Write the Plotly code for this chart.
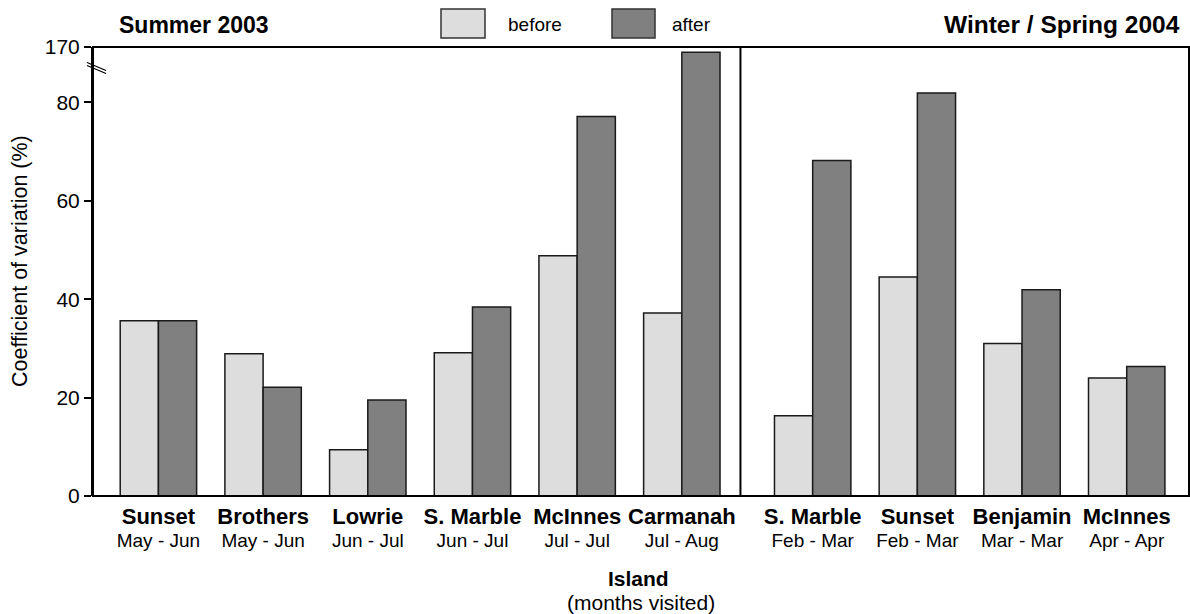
import plotly.graph_objects as go

# ---------------- data ----------------
summer_islands = ["Sunset", "Brothers", "Lowrie", "S. Marble", "McInnes", "Carmanah"]
summer_months = ["May - Jun", "May - Jun", "Jun - Jul", "Jun - Jul", "Jul - Jul", "Jul - Aug"]
summer_before = [35.6, 28.9, 9.4, 29.1, 48.8, 37.2]
summer_after = [35.6, 22.1, 19.5, 38.4, 77.1, 165.0]

winter_islands = ["S. Marble", "Sunset", "Benjamin", "McInnes"]
winter_months = ["Feb - Mar", "Feb - Mar", "Mar - Mar", "Apr - Apr"]
winter_before = [16.3, 44.5, 31.0, 24.0]
winter_after = [68.2, 81.9, 41.9, 26.3]

lower_ticks = [0, 20, 40, 60, 80]
upper_ticks = [170]

season_labels = ["Summer 2003", "Winter / Spring 2004"]
series_names = ["before", "after"]

# ---------------- layout constants ----------------
W, H = 1190, 614
ML, MR, MT, MB = 93, 1, 47, 118
PW, PH = W - ML - MR, H - MT - MB
WINTER_GAP = 0.25
BREAK_PX = 68          # pixel row of the axis break
FONT = "Liberation Sans, Arial, sans-serif"
C_BEFORE, C_AFTER, C_EDGE = "#dddddd", "#808080", "#1a1a1a"


def px_x(px):
    return (px - ML) / PW


def px_y(py):
    return (H - MB - py) / PH


islands = summer_islands + winter_islands
months = summer_months + winter_months
before = summer_before + winter_before
after = summer_after + winter_after
xpos = list(range(len(summer_islands))) + [len(summer_islands) + WINTER_GAP + i for i in range(len(winter_islands))]
ticktext = [f"<span style='font-size:22px'><b>{n}</b></span><br><span style='font-size:19px'>{m}</span>"
            for n, m in zip(islands, months)]

break_frac = px_y(BREAK_PX)
lower_top = 80 + (102.3 - BREAK_PX) / 4.92

fig = go.Figure()
for yax in ["y", "y2"]:
    fig.add_trace(go.Bar(x=xpos, y=before, name=series_names[0], yaxis=yax, xaxis="x",
                         marker=dict(color=C_BEFORE, line=dict(color=C_EDGE, width=1.5)),
                         showlegend=False, hoverinfo="y"))
    fig.add_trace(go.Bar(x=xpos, y=after, name=series_names[1], yaxis=yax, xaxis="x",
                         marker=dict(color=C_AFTER, line=dict(color=C_EDGE, width=1.5)),
                         showlegend=False, hoverinfo="y"))

shapes = [
    # frame
    dict(type="rect", xref="paper", yref="paper", x0=0, x1=1, y0=0, y1=1,
         line=dict(color="black", width=2), layer="above"),
    # season divider
    dict(type="line", xref="x", yref="paper", x0=5.56, x1=5.56, y0=0, y1=1,
         line=dict(color="black", width=2)),
    # axis break marks
    dict(type="line", xref="paper", yref="paper", x0=px_x(87), x1=px_x(106),
         y0=px_y(62.5), y1=px_y(70.5), line=dict(color="black", width=1.3)),
    dict(type="line", xref="paper", yref="paper", x0=px_x(87), x1=px_x(106),
         y0=px_y(65.5), y1=px_y(73.5), line=dict(color="black", width=1.3)),
    # legend boxes
    dict(type="rect", xref="paper", yref="paper", x0=px_x(441), x1=px_x(485),
         y0=px_y(38), y1=px_y(9), fillcolor=C_BEFORE, line=dict(color="#333333", width=1.5)),
    dict(type="rect", xref="paper", yref="paper", x0=px_x(612), x1=px_x(655),
         y0=px_y(38), y1=px_y(9), fillcolor=C_AFTER, line=dict(color="#333333", width=1.5)),
]

annotations = [
    dict(text=f"<b>{season_labels[0]}</b>", xref="paper", yref="paper", x=px_x(117), y=px_y(25),
         xanchor="left", yanchor="middle", showarrow=False, font=dict(size=23, color="black")),
    dict(text=f"<b>{season_labels[1]}</b>", xref="paper", yref="paper", x=px_x(1182), y=px_y(25),
         xanchor="right", yanchor="middle", showarrow=False, font=dict(size=24.5, color="black")),
    dict(text=series_names[0], xref="paper", yref="paper", x=px_x(506), y=px_y(24),
         xanchor="left", yanchor="middle", showarrow=False, font=dict(size=19, color="black")),
    dict(text=series_names[1], xref="paper", yref="paper", x=px_x(670), y=px_y(24),
         xanchor="left", yanchor="middle", showarrow=False, font=dict(size=19, color="black")),
    dict(text="Coefficient of variation (%)", xref="paper", yref="paper", x=px_x(20), y=px_y(261),
         xanchor="center", yanchor="middle", textangle=-90, showarrow=False,
         font=dict(size=21.5, color="black")),
    dict(text="<b>Island</b>", xref="paper", yref="paper", x=px_x(638), y=px_y(578),
         xanchor="center", yanchor="middle", showarrow=False, font=dict(size=21, color="black")),
    dict(text="(months visited)", xref="paper", yref="paper", x=px_x(641), y=px_y(602),
         xanchor="center", yanchor="middle", showarrow=False, font=dict(size=21, color="black")),
]

fig.update_layout(
    width=W, height=H,
    margin=dict(l=ML, r=MR, t=MT, b=MB, pad=0),
    paper_bgcolor="white", plot_bgcolor="white",
    font=dict(family=FONT, size=20, color="black"),
    barmode="group", bargap=0.27, bargroupgap=0,
    xaxis=dict(range=[-0.625, 9.845], tickvals=xpos, ticktext=ticktext, ticks="",
               ticklabelstandoff=9,
               showgrid=False, zeroline=False, showline=False,
               tickfont=dict(size=18), fixedrange=True),
    yaxis=dict(domain=[0, break_frac], range=[0, lower_top], tickvals=lower_ticks,
               ticks="outside", ticklen=7, tickwidth=2, tickcolor="black",
               showgrid=False, zeroline=False, showline=True, linewidth=2, linecolor="black",
               tickfont=dict(size=21)),
    yaxis2=dict(domain=[break_frac, 1], range=[150, 170], tickvals=upper_ticks, anchor="x",
                ticks="outside", ticklen=7, tickwidth=2, tickcolor="black",
                showgrid=False, zeroline=False, showline=True, linewidth=2, linecolor="black",
                tickfont=dict(size=21)),
    shapes=shapes, annotations=annotations,
)

fig.write_html("out.html", config={"displayModeBar": False},
               post_script="document.body.style.margin='0';")
